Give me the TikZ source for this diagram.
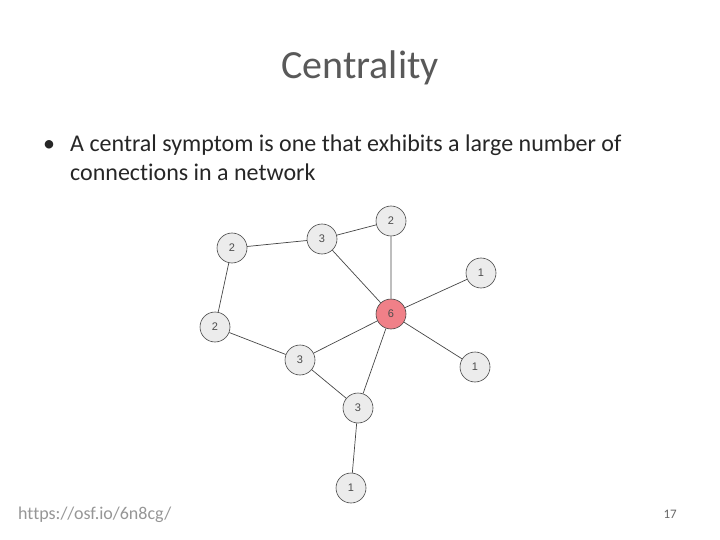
\documentclass[tikz,border=0pt]{standalone}
\usepackage{fontspec}
\setmainfont{Carlito}[Ligatures=NoCommon]
\newfontfamily\labelfont{Liberation Sans}
\usepackage{xcolor}
\usepackage{tikz}
\usetikzlibrary{positioning}
\definecolor{nodegray}{RGB}{236,236,236}
\definecolor{edgegray}{RGB}{70,70,70}
\definecolor{hubred}{RGB}{240,128,136}
\definecolor{titlegray}{RGB}{89,89,89}
\definecolor{bodygray}{RGB}{38,38,38}
\definecolor{footgray}{RGB}{150,150,150}

\begin{document}
\begin{tikzpicture}[x=1pt, y=-1pt,
    symptom/.style={circle, draw=edgegray, fill=nodegray, line width=0.6pt, minimum size=30pt, inner sep=0pt, font=\labelfont\fontsize{11}{12}\selectfont, text=black!70},
    hub/.style={symptom, fill=hubred},
    link/.style={draw=edgegray, line width=0.7pt},
    bodytext/.style={anchor=base west, inner sep=0pt, text=bodygray, font=\fontsize{24}{28}\selectfont}
  ]
    \useasboundingbox (0,0) rectangle (720,540);
    % heading and bullet
    \node[anchor=base, text=titlegray] (title) at (360,79) {\fontsize{40}{46}\selectfont Centrality};
    \node[bodytext] (dot) at (43,152) {\textbullet};
    \node[bodytext] (line1) at (70,152) {A central symptom is one that exhibits a large number of};
    \node[bodytext] (line2) at (70,181) {connections in a network};

    % network
    \node[symptom] (top2) at (391,221) {2};
    \node[symptom] (top3) at (322,239) {3};
    \node[symptom] (left2) at (232,248) {2};
    \node[symptom] (right1) at (481,273) {1};
    \node[hub] (center) at (391,314) {6};
    \node[symptom] (mid2) at (215,327) {2};
    \node[symptom] (mid3) at (300,360) {3};
    \node[symptom] (right1b) at (475,367) {1};
    \node[symptom] (low3) at (358,408) {3};
    \node[symptom] (bot1) at (351,488) {1};

    \draw[link] (left2)--(top3)--(top2)--(center);
    \draw[link] (top3)--(center);
    \draw[link] (center)--(right1);
    \draw[link] (center)--(right1b);
    \draw[link] (center)--(mid3);
    \draw[link] (center)--(low3);
    \draw[link] (left2)--(mid2)--(mid3)--(low3)--(bot1);

    % footer
    \node[anchor=base west, inner sep=0pt, text=footgray] (url) at (18,519) {\fontsize{18}{21}\selectfont https://osf.io/6n8cg/};
    \node[anchor=base east, inner sep=0pt, text=black!60] (page) at (677,518) {\fontsize{13}{15}\selectfont 17};
  \end{tikzpicture}
\end{document}
